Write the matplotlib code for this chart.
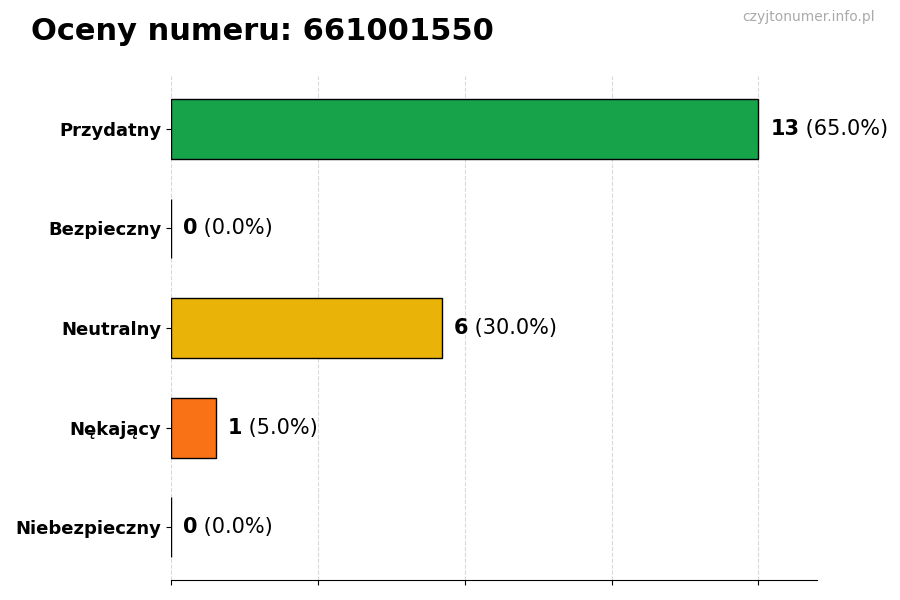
import matplotlib
matplotlib.use("Agg")
import matplotlib.pyplot as plt
import numpy as np

categories = ["Przydatny", "Bezpieczny", "Neutralny", "Nękający", "Niebezpieczny"]
counts = [13, 0, 6, 1, 0]
colors = ["#16a34a", "#22c55e", "#eab308", "#f97316", "#dc2626"]
title = "Oceny numeru: 661001550"
watermark = "czyjtonumer.info.pl"

total = sum(counts)
fig = plt.figure(figsize=(9, 6), dpi=100)
ax = fig.add_axes([0.19, 0.0333, 0.718, 0.84])

y = np.arange(len(categories))[::-1]
ax.barh(y, counts, height=0.6, color=colors, edgecolor="black", linewidth=1, zorder=2)
mx = max(counts)
ax.set_xlim(0, mx * 1.1)
ax.set_xticks(np.linspace(0, mx, 5))
ax.set_xticklabels([])
ax.set_yticks(y)
ax.set_yticklabels(categories, fontsize=13, fontweight="bold")
ax.grid(axis="x", linestyle="--", color="#d9d9d9", linewidth=0.8, zorder=0)
ax.set_axisbelow(True)
for s in ["top", "right", "left"]:
    ax.spines[s].set_visible(False)

for yi, c in zip(y, counts):
    t1 = ax.text(c + mx * 0.02, yi, f"{c}", fontsize=15, fontweight="bold", va="center", ha="left")
    pct = c / total * 100
    ax.annotate(f" ({pct:.1f}%)", xy=(1, 0), xycoords=t1, va="bottom", ha="left", fontsize=15)

fig.text(31 / 900, 1 - 31 / 600, title, fontsize=22, fontweight="bold", ha="left", va="center")
fig.text(875 / 900, 1 - 17 / 600, watermark, fontsize=10, color="#aaaaaa", ha="right", va="center")

fig.savefig("out.png", dpi=100)
